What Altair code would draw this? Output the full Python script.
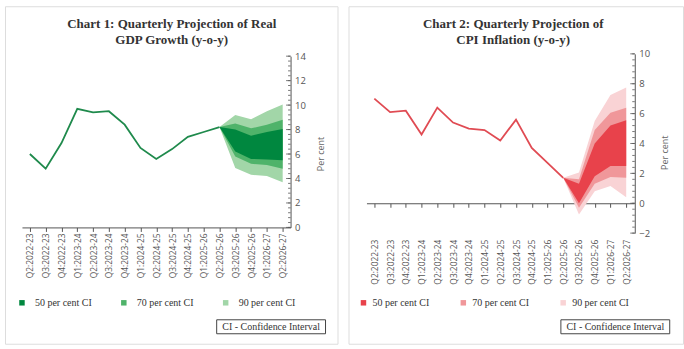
import altair as alt
import pandas as pd

cats = ["Q2:2022-23", "Q3:2022-23", "Q4:2022-23", "Q1:2023-24", "Q2:2023-24",
        "Q3:2023-24", "Q4:2023-24", "Q1:2024-25", "Q2:2024-25", "Q3:2024-25",
        "Q4:2024-25", "Q1:2025-26", "Q2:2025-26", "Q3:2025-26", "Q4:2025-26",
        "Q1:2026-27", "Q2:2026-27"]
hist_cats = cats[:13]
fan_cats = cats[12:]
band_names = ["50 per cent CI", "70 per cent CI", "90 per cent CI"]

# Chart 1: GDP growth
gdp_hist = [6.0, 4.8, 6.9, 9.7, 9.4, 9.5, 8.4, 6.5, 5.6, 6.4, 7.4, 7.8, 8.2]
gdp_50_lo = [8.2, 6.2, 5.6, 5.55, 5.5]
gdp_50_hi = [8.2, 8.0, 7.5, 7.8, 8.05]
gdp_70_lo = [8.2, 5.8, 5.2, 5.1, 4.8]
gdp_70_hi = [8.2, 8.5, 8.1, 8.4, 8.8]
gdp_90_lo = [8.2, 4.85, 4.3, 4.2, 3.7]
gdp_90_hi = [8.2, 9.2, 8.85, 9.5, 10.05]

# Chart 2: CPI inflation
cpi_hist = [7.0, 6.1, 6.2, 4.6, 6.4, 5.4, 5.0, 4.9, 4.2, 5.6, 3.7, 2.7, 1.7]
cpi_50_lo = [1.7, 0.0, 1.8, 2.5, 2.5]
cpi_50_hi = [1.7, 1.3, 4.0, 5.2, 5.55]
cpi_70_lo = [1.7, -0.3, 1.3, 1.75, 1.7]
cpi_70_hi = [1.7, 1.6, 4.9, 6.05, 6.4]
cpi_90_lo = [1.7, -0.75, 0.8, 1.15, 0.4]
cpi_90_hi = [1.7, 2.05, 5.5, 7.25, 7.75]

gdp_ticks = [0, 2, 4, 6, 8, 10, 12, 14]
cpi_ticks = [-2, 0, 2, 4, 6, 8, 10]

SANS = "Open Sans"
SERIF = "Liberation Serif"


def band_frame(lows, highs):
    rows = []
    for name, lo, hi in zip(band_names, lows, highs):
        for c, a, b in zip(fan_cats, lo, hi):
            rows.append({"cat": c, "band": name, "lo": a, "hi": b})
    return pd.DataFrame(rows)


def panel(title, hist, lows, highs, colors, line_color, ticks, W, H,
          xr, yr, yaxis_x, y0pix, label_pad, leg_x, leg_off, col_pad,
          title_x, pc_x, pc_y, box_x):
    ydom = [ticks[0], ticks[-1]]
    xenc = alt.X("cat:N", sort=cats,
                 scale=alt.Scale(type="point", domain=cats, range=xr),
                 axis=alt.Axis(orient="bottom", offset=-(H - y0pix), title=None,
                               labelAngle=270, labelAlign="right",
                               labelBaseline="middle", labelPadding=label_pad,
                               labelFont=SANS, labelFontSize=8.4,
                               labelColor="#555", tickSize=4, tickColor="#555",
                               domainColor="#555", grid=False))
    yscale = alt.Scale(domain=ydom, range=yr, nice=False, zero=False)
    yaxis = alt.Axis(orient="right", offset=-(W - yaxis_x), values=ticks,
                     ticks=False, title=None, labelPadding=4, labelFont=SANS,
                     labelFontSize=9.5, labelColor="#555", domainColor="#555",
                     grid=False)
    bdf = band_frame(lows, highs)
    color = alt.Color("band:N",
                      scale=alt.Scale(domain=band_names, range=colors),
                      legend=alt.Legend(orient="none", legendX=leg_x, legendY=292,
                                        direction="horizontal", title=None,
                                        symbolType="square", symbolSize=30,
                                        symbolStrokeWidth=0, labelFont=SERIF,
                                        labelFontSize=10, labelColor="#333",
                                        labelOffset=leg_off, columnPadding=col_pad,
                                        padding=0))
    layers = []
    for name in band_names[::-1]:
        layers.append(
            alt.Chart(bdf).transform_filter(alt.datum.band == name)
            .mark_area(opacity=1, interpolate="linear")
            .encode(x=xenc, y=alt.Y("lo:Q", scale=yscale, axis=yaxis),
                    y2="hi:Q", color=color)
        )
    hdf = pd.DataFrame({"cat": hist_cats, "v": hist})
    layers.append(alt.Chart(hdf).mark_line(color=line_color, strokeWidth=1.8)
                  .encode(x=xenc, y=alt.Y("v:Q", scale=yscale, axis=yaxis)))
    # right-axis tick marks pointing inward
    minor = []
    step = 0.4
    k = 0
    while ticks[0] + k * step <= ticks[-1] + 1e-9:
        minor.append(round(ticks[0] + k * step, 3))
        k += 1
    layers.append(alt.Chart(pd.DataFrame({"t": minor})).mark_rule(color="#555", strokeWidth=0.8)
                  .encode(y=alt.Y("t:Q", scale=yscale, axis=yaxis),
                          x=alt.value(yaxis_x - 2.5), x2=alt.value(yaxis_x)))
    layers.append(alt.Chart(pd.DataFrame({"t": ticks})).mark_rule(color="#555", strokeWidth=0.8)
                  .encode(y=alt.Y("t:Q", scale=yscale, axis=yaxis),
                          x=alt.value(yaxis_x - 4.5), x2=alt.value(yaxis_x)))
    # title
    layers.append(alt.Chart(pd.DataFrame({"t": [title]})).mark_text(
        font=SERIF, fontWeight="bold", fontSize=13, color="#333", align="center",
        baseline="alphabetic", lineBreak="\n", lineHeight=15.5)
        .encode(text="t:N", x=alt.value(title_x), y=alt.value(22)))
    # axis title
    layers.append(alt.Chart(pd.DataFrame({"t": ["Per cent"]})).mark_text(
        font=SANS, fontSize=9, color="#666", angle=270, align="center",
        baseline="middle")
        .encode(text="t:N", x=alt.value(pc_x), y=alt.value(pc_y)))
    # note box
    layers.append(alt.Chart(pd.DataFrame({"t": ["CI - Confidence Interval"]})).mark_rect(
        fill="white", stroke="#444", strokeWidth=1)
        .encode(x=alt.value(box_x), x2=alt.value(box_x + 109),
                y=alt.value(314), y2=alt.value(328)))
    layers.append(alt.Chart(pd.DataFrame({"t": ["CI - Confidence Interval"]})).mark_text(
        font=SERIF, fontSize=10, color="#333", align="center", baseline="middle")
        .encode(text="t:N", x=alt.value(box_x + 54.5), y=alt.value(321.5)))
    return alt.layer(*layers).properties(width=W, height=H)


left = panel("Chart 1: Quarterly Projection of Real\nGDP Growth (y-o-y)",
             gdp_hist,
             [gdp_50_lo, gdp_70_lo, gdp_90_lo], [gdp_50_hi, gdp_70_hi, gdp_90_hi],
             ["#00873f", "#4fb36a", "#a2d6a8"], "#1f8a4c", gdp_ticks,
             W=333, H=338, xr=[17, 286], yr=[221.5, 50], yaxis_x=286, y0pix=221.5,
             label_pad=1.5, leg_x=12, leg_off=8, col_pad=27,
             title_x=167, pc_x=316, pc_y=148, box_x=212)

right = panel("Chart 2: Quarterly Projection of\nCPI Inflation (y-o-y)",
              cpi_hist,
              [cpi_50_lo, cpi_70_lo, cpi_90_lo], [cpi_50_hi, cpi_70_hi, cpi_90_hi],
              ["#e8424b", "#f0979a", "#f9d3d5"], "#e04b53", cpi_ticks,
              W=335, H=338, xr=[18, 286], yr=[227.2, 47.7], yaxis_x=286.7, y0pix=197.3,
              label_pad=32, leg_x=10, leg_off=4, col_pad=29,
              title_x=165, pc_x=316.7, pc_y=146.7, box_x=212.7)

chart = (alt.hconcat(left, right, spacing=9)
         .resolve_scale(color="independent", x="independent", y="independent")
         .properties(padding={"left": 4, "top": 5, "right": 0, "bottom": 0})
         .configure_view(stroke="#222", strokeWidth=2)
         .configure(background="white"))

chart.save("out.html", embed_options={"renderer": "svg", "actions": False})
